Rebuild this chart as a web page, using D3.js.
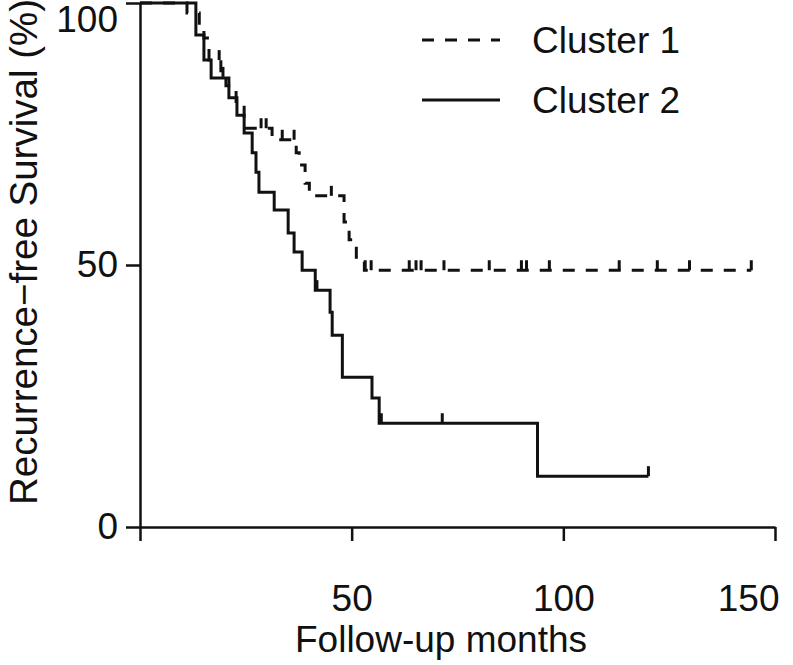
<!DOCTYPE html>
<html>
<head>
<meta charset="utf-8">
<script src="https://cdn.jsdelivr.net/npm/d3@7"></script>
<style>
  body { margin: 0; background: #fff; }
  svg text { font-family: "Liberation Sans", Arial, sans-serif; fill: #111; }
</style>
</head>
<body>
<script>
// Cluster 1 (dashed): step times (months) and survival after each step (%)
const months1 = [0, 11.1, 14.0, 15.1, 16.3, 19.1, 20.3, 22.7, 24.6, 31.2, 36.9, 37.6, 39.0, 40.0, 48.2, 49.4, 51.1, 53.0, 144.4];
const surv1   = [100, 98.1, 95.8, 93.3, 89.1, 85.9, 84.2, 80.5, 76.1, 73.9, 71.4, 69.1, 65.6, 63.2, 58.2, 54.8, 51.5, 49.0, 49.0];
const censor1 = [18.7, 19.6, 28.6, 29.8, 33.6, 36.4, 45.2, 53.2, 54.6, 63.6, 65.2, 66.4, 71.8, 82.5, 90.1, 91.3, 96.7, 113.2, 122.2, 129.8, 144.4];

// Cluster 2 (solid)
const months2 = [0, 13.2, 15.1, 16.8, 21.0, 22.9, 24.6, 26.5, 27.4, 28.1, 31.7, 35.0, 36.4, 38.3, 41.4, 44.9, 45.4, 47.8, 54.8, 56.5, 93.9, 120.1];
const surv2   = [100, 93.9, 89.1, 85.7, 81.9, 78.6, 75.2, 71.4, 67.7, 63.9, 60.5, 56.1, 52.5, 49.0, 45.2, 41.0, 36.6, 28.6, 24.6, 19.8, 9.7, 9.7];
const censor2 = [41.8, 57.0, 71.4, 120.1];

const xTicks = [0, 50, 100, 150];
const yTicks = [0, 50, 100];
const seriesNames = ["Cluster 1", "Cluster 2"];

const svgWidth = 793;
const svgHeight = 665;

const svg = d3.select("body")
  .append("svg")
  .attr("width", svgWidth)
  .attr("height", svgHeight);

const x = d3.scaleLinear().domain([0, 150]).range([140, 775]);
const y = d3.scaleLinear().domain([0, 100]).range([527, 3]);

// axes
const xAxis = svg.append("g")
  .attr("transform", `translate(0,${y(0)})`)
  .call(d3.axisBottom(x).tickValues(xTicks).tickSize(14).tickSizeOuter(0).tickPadding(44)
    .tickFormat(d => d === 0 ? "" : d));
const yAxis = svg.append("g")
  .attr("transform", `translate(${x(0)},0)`)
  .call(d3.axisLeft(y).tickValues(yTicks).tickSize(14).tickSizeOuter(0).tickPadding(8));

[xAxis, yAxis].forEach(a => {
  a.select(".domain").attr("stroke", "#111").attr("stroke-width", 2.5);
  a.selectAll(".tick line").attr("stroke", "#111").attr("stroke-width", 2.5);
  a.selectAll(".tick text").attr("font-size", 37).attr("fill", "#111");
});
// edge labels pulled inside the picture
yAxis.selectAll(".tick text").filter(d => d === 100).attr("dy", "0.78em");
xAxis.selectAll(".tick text").filter(d => d === 150).attr("text-anchor", "end").attr("dx", 4);

svg.append("text")
  .attr("x", 441).attr("y", 652)
  .attr("text-anchor", "middle")
  .attr("font-size", 37)
  .text("Follow-up months");

svg.append("text")
  .attr("transform", "translate(37,252) rotate(-90)")
  .attr("text-anchor", "middle")
  .attr("font-size", 38.5)
  .text("Recurrence\u2212free Survival (%)");

// curves
const line = d3.line()
  .x(d => x(d[0]))
  .y(d => y(d[1]))
  .curve(d3.curveStepAfter);

const series = [
  { t: months1, s: surv1, c: censor1, dash: "12,11" },
  { t: months2, s: surv2, c: censor2, dash: null }
];

function survAt(ser, t) {
  let v = ser.s[0];
  ser.t.forEach((ti, i) => { if (ti <= t) v = ser.s[i]; });
  return v;
}

series.forEach(ser => {
  const pts = ser.t.map((t, i) => [t, ser.s[i]]);
  svg.append("path")
    .datum(pts)
    .attr("d", line)
    .attr("fill", "none")
    .attr("stroke", "#111")
    .attr("stroke-width", 3)
    .attr("stroke-dasharray", ser.dash);

  svg.selectAll(null)
    .data(ser.c)
    .enter().append("line")
    .attr("x1", d => x(d)).attr("x2", d => x(d))
    .attr("y1", d => y(survAt(ser, d)))
    .attr("y2", d => y(survAt(ser, d)) - 10)
    .attr("stroke", "#111")
    .attr("stroke-width", 3);
});

// legend
const legend = svg.append("g");
seriesNames.forEach((name, i) => {
  const ly = 40 + i * 60;
  legend.append("line")
    .attr("x1", 422).attr("x2", 500)
    .attr("y1", ly).attr("y2", ly)
    .attr("stroke", "#111")
    .attr("stroke-width", 3)
    .attr("stroke-dasharray", series[i].dash);
  legend.append("text")
    .attr("x", 532).attr("y", ly)
    .attr("dy", "0.36em")
    .attr("font-size", 37)
    .text(name);
});
</script>
</body>
</html>
